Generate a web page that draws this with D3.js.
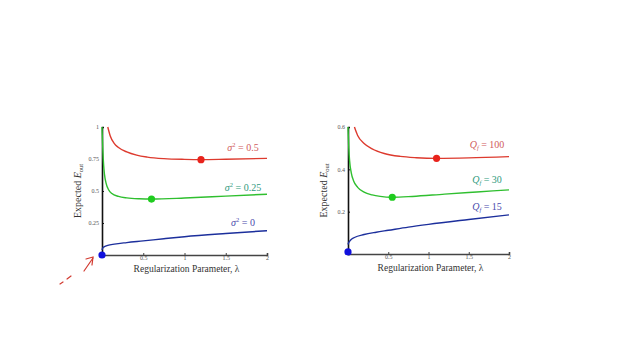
<!DOCTYPE html>
<html><head><meta charset="utf-8">
<script src="https://cdn.jsdelivr.net/npm/d3@7"></script>
<style>body{margin:0;background:#fff}svg{display:block}text{font-family:"Liberation Serif","DejaVu Serif",serif}</style>
</head><body><svg id="c" width="640" height="360"></svg>
<script>
// ---- data ----
const lambdaTicks = [0.5, 1, 1.5, 2];
const leftYTicks = [0.25, 0.5, 0.75, 1];
const leftYTickLabels = ["0.25", "0.5", "0.75", "1"];
const rightYTicks = [0.2, 0.4, 0.6];
const rightYTickLabels = ["0.2", "0.4", "0.6"];

const leftRed = [[0.07,1.0],[0.1,0.93],[0.15,0.87],[0.2,0.84],[0.3,0.805],[0.42,0.78],[0.55,0.765],[0.75,0.753],[1.0,0.747],[1.2,0.745],[1.5,0.748],[2.0,0.755]];
const leftGreen = [[0.0,1.0],[0.01,0.82],[0.02,0.7],[0.03,0.63],[0.05,0.56],[0.08,0.51],[0.12,0.48],[0.2,0.458],[0.3,0.446],[0.45,0.439],[0.6,0.437],[1.0,0.445],[1.5,0.46],[2.0,0.475]];
const leftBlue = [[0.0,0.04],[0.01,0.055],[0.03,0.065],[0.07,0.075],[0.15,0.085],[0.3,0.097],[0.5,0.11],[0.75,0.127],[1.0,0.143],[1.5,0.168],[2.0,0.19]];
const leftMins = [[1.2,0.745],[0.6,0.437],[0,0]];
const leftLabels = ["σ² = 0.5","σ² = 0.25","σ² = 0"];
const leftLabelY = [0.81, 0.5, 0.23];

const rightRed = [[0.08,0.6],[0.12,0.56],[0.2,0.522],[0.3,0.497],[0.45,0.475],[0.65,0.461],[0.85,0.455],[1.1,0.452],[1.5,0.454],[2.0,0.46]];
const rightGreen = [[0.0,0.6],[0.01,0.5],[0.02,0.44],[0.04,0.385],[0.07,0.345],[0.12,0.315],[0.2,0.292],[0.3,0.279],[0.4,0.272],[0.55,0.268],[0.8,0.272],[1.2,0.283],[1.6,0.293],[2.0,0.303]];
const rightBlue = [[0.0,0.045],[0.01,0.055],[0.03,0.065],[0.08,0.078],[0.2,0.092],[0.35,0.103],[0.5,0.112],[0.75,0.127],[1.0,0.14],[1.5,0.163],[2.0,0.185]];
const rightMins = [[1.1,0.452],[0.55,0.268],[0,0.01]];
const rightLabels = ["100","30","15"];
const rightLabelY = [0.5, 0.335, 0.21];

const lineColors = ["#dd3a2e","#2fbf2f","#1c2f9c"];
const dotColors = ["#e8231c","#1fcc1f","#1010dd"];
const labelColors = ["#d05b5b","#2f9a7e","#4a4aac"];

const svg = d3.select("#c");

function panel(opt){
  const g = svg.append("g");
  const x = d3.scaleLinear().domain([0,2]).range(opt.xr);
  const y = d3.scaleLinear().domain([0,opt.ymax]).range(opt.yr);
  const line = d3.line().x(d=>x(d[0])).y(d=>y(d[1])).curve(d3.curveMonotoneX);
  // axes
  const xa = d3.axisBottom(x).tickValues(lambdaTicks).tickSize(-2).tickPadding(1)
    .tickFormat(d=>String(d));
  const gx = g.append("g").attr("transform",`translate(0,${opt.yr[0]})`).call(xa);
  gx.select(".domain").attr("stroke","#444").attr("stroke-width",1.6);
  gx.selectAll(".tick line").attr("stroke","#444");
  gx.selectAll("text").attr("font-size",6).attr("fill","#555");
  const ya = d3.axisLeft(y).tickValues(opt.yticks).tickSize(-2).tickPadding(3)
    .tickFormat((d,i)=>opt.ylabels[i]);
  const gy = g.append("g").attr("transform",`translate(${opt.xr[0]},0)`).call(ya);
  gy.select(".domain").attr("stroke","#111").attr("stroke-width",1.6);
  gy.selectAll(".tick line").attr("stroke","#111");
  gy.selectAll("text").attr("font-size",6).attr("fill","#555");
  // curves
  opt.series.forEach((s,i)=>{
    g.append("path").datum(s).attr("d",line).attr("fill","none")
      .attr("stroke",lineColors[i]).attr("stroke-width",1.4);
  });
  opt.mins.forEach((m,i)=>{
    g.append("circle").attr("cx",x(m[0])).attr("cy",y(m[1])).attr("r",3.6).attr("fill",dotColors[i]);
  });
  // labels
  opt.labels.forEach((lab,i)=>{
    const t = g.append("text").attr("x",opt.labelX).attr("y",y(opt.labelY[i]))
      .attr("text-anchor","middle").attr("font-size",10).attr("fill",labelColors[i]);
    if(opt.q){
      t.append("tspan").attr("font-style","italic").text("Q");
      t.append("tspan").attr("font-style","italic").attr("font-size",6.5).attr("dy",2).text("f");
      t.append("tspan").attr("dy",-2).text(" = "+lab);
    } else {
      t.append("tspan").attr("font-style","italic").text("σ");
      t.append("tspan").attr("font-size",6.5).attr("dy",-4).text("2");
      t.append("tspan").attr("dy",4).text(" = "+lab.split("= ")[1]);
    }
  });
  // axis titles
  const xm = (opt.xr[0]+opt.xr[1])/2;
  const xt = g.append("text").attr("x",xm+2).attr("y",opt.yr[0]+16.5).attr("text-anchor","middle")
    .attr("font-size",9.5).attr("fill","#333");
  xt.text("Regularization Parameter, λ");
  const yt = g.append("text").attr("transform",`translate(${opt.xr[0]-21},${(opt.yr[0]+opt.yr[1])/2}) rotate(-90)`)
    .attr("text-anchor","middle").attr("font-size",10).attr("fill","#333");
  yt.append("tspan").text("Expected ");
  yt.append("tspan").attr("font-style","italic").text("E");
  yt.append("tspan").attr("font-size",6.5).attr("dy",2).text("out");
  return {x,y};
}

panel({xr:[102,267], yr:[255,127], ymax:1, yticks:leftYTicks, ylabels:leftYTickLabels,
  series:[leftRed,leftGreen,leftBlue], mins:leftMins, labels:leftLabels, labelY:leftLabelY, labelX:243, q:false});
panel({xr:[348,509], yr:[254,127], ymax:0.6, yticks:rightYTicks, ylabels:rightYTickLabels,
  series:[rightRed,rightGreen,rightBlue], mins:rightMins, labels:rightLabels, labelY:rightLabelY, labelX:487, q:true});

// hand-drawn red arrow annotation
const ann = svg.append("g").attr("stroke","#d23a30").attr("stroke-width",1.2).attr("fill","none").attr("stroke-linecap","round");
ann.append("path").attr("d","M84,271 L93,258");
ann.append("path").attr("d","M86,259 L93,257 L92,265");
ann.append("path").attr("d","M60,284 L63,282");
ann.append("path").attr("d","M67,279 L71,276");
</script></body></html>
